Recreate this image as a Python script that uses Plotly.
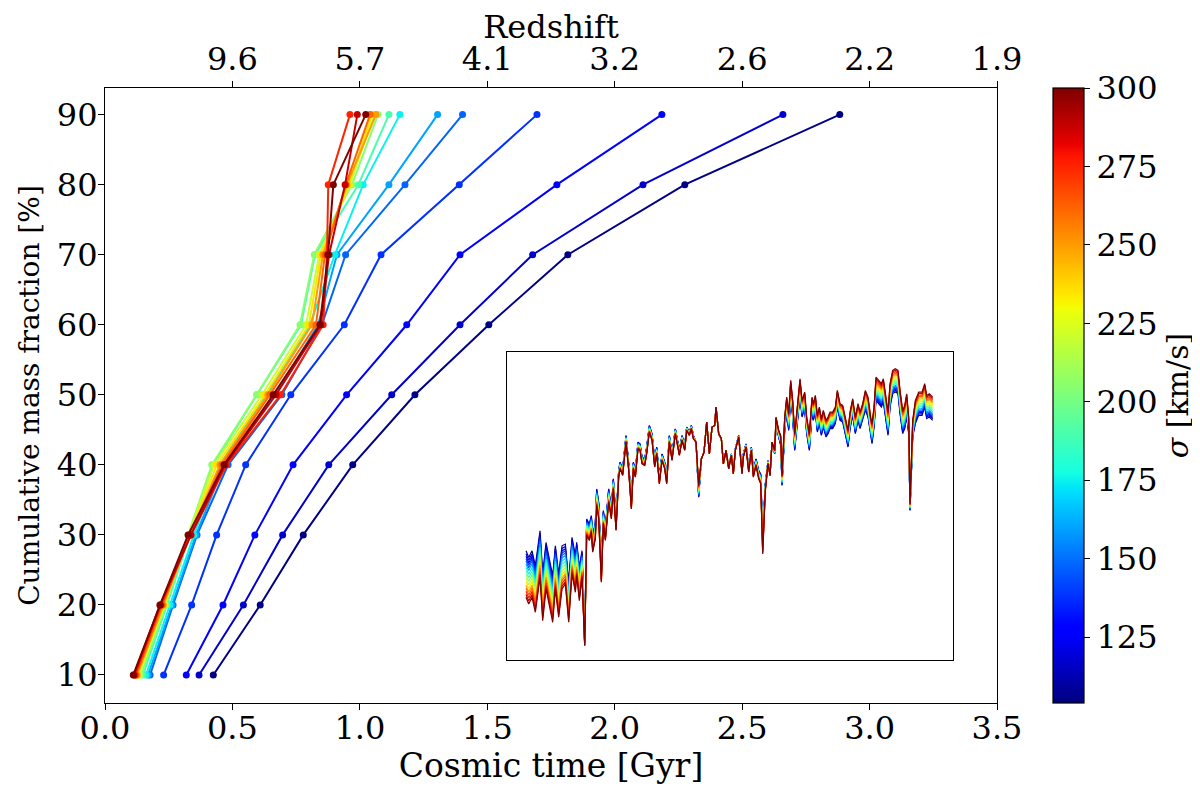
import numpy as np
import plotly.graph_objects as go

# velocity dispersion of each model [km/s]
sigma = [105, 117, 128, 138, 148, 160, 175, 190, 205, 220, 235, 250, 262, 275, 288, 300]
mass_fraction = [10, 20, 30, 40, 50, 60, 70, 80, 90]

# cosmic time [Gyr] at which each cumulative mass fraction is reached
t_105 = [0.425, 0.609, 0.778, 0.972, 1.216, 1.506, 1.816, 2.275, 2.883]
t_117 = [0.369, 0.543, 0.697, 0.878, 1.125, 1.393, 1.678, 2.111, 2.660]
t_128 = [0.319, 0.463, 0.588, 0.738, 0.948, 1.184, 1.393, 1.773, 2.185]
t_138 = [0.230, 0.340, 0.438, 0.552, 0.729, 0.939, 1.083, 1.390, 1.695]
t_148 = [0.177, 0.267, 0.361, 0.483, 0.694, 0.851, 0.944, 1.177, 1.403]
t_160 = [0.169, 0.263, 0.357, 0.467, 0.667, 0.836, 0.910, 1.114, 1.305]
t_175 = [0.161, 0.255, 0.349, 0.451, 0.632, 0.804, 0.902, 1.013, 1.157]
t_190 = [0.149, 0.243, 0.333, 0.424, 0.596, 0.769, 0.824, 0.994, 1.114]
t_205 = [0.141, 0.239, 0.326, 0.419, 0.595, 0.765, 0.821, 0.969, 1.071]
t_220 = [0.133, 0.235, 0.326, 0.428, 0.616, 0.789, 0.840, 0.961, 1.055]
t_235 = [0.129, 0.231, 0.330, 0.439, 0.628, 0.800, 0.847, 0.957, 1.047]
t_250 = [0.126, 0.228, 0.333, 0.451, 0.639, 0.812, 0.855, 0.949, 1.063]
t_262 = [0.122, 0.224, 0.333, 0.459, 0.647, 0.828, 0.863, 0.945, 1.040]
t_275 = [0.118, 0.220, 0.337, 0.477, 0.689, 0.856, 0.871, 0.876, 0.961]
t_288 = [0.114, 0.216, 0.337, 0.471, 0.671, 0.847, 0.879, 0.942, 0.990]
t_300 = [0.111, 0.216, 0.326, 0.467, 0.660, 0.843, 0.875, 0.896, 1.023]
cosmic_time = [t_105, t_117, t_128, t_138, t_148, t_160, t_175, t_190,
               t_205, t_220, t_235, t_250, t_262, t_275, t_288, t_300]

# top axis
z_ticks = [0.5, 1.0, 1.5, 2.0, 2.5, 3.0, 3.5]
z_labels = ['9.6', '5.7', '4.1', '3.2', '2.6', '2.2', '1.9']

# inset spectrum: wavelength [A], flux of the sigma=300 model, and
# flux difference (lowest sigma - highest sigma)
wave = [4780, 4784, 4789, 4794, 4801, 4805, 4810, 4815, 4820, 4824, 4829, 4834, 4839, 4844,
        4849, 4854, 4856, 4860, 4864, 4868, 4871, 4875, 4878, 4880, 4884, 4886, 4889, 4893,
        4896, 4899, 4904, 4908, 4911, 4915, 4919, 4921, 4925, 4930, 4934, 4938, 4941, 4944,
        4948, 4951, 4954, 4958, 4961, 4965, 4969, 4973, 4976, 4980, 4984, 4988, 4991, 4995,
        4999, 5004, 5008, 5010, 5014, 5018, 5021, 5025, 5028, 5031, 5035, 5039, 5043, 5047,
        5051, 5055, 5059, 5063, 5065, 5069, 5073, 5076, 5080, 5084, 5088, 5091, 5094, 5099,
        5104, 5106, 5110, 5114, 5118, 5121, 5125, 5129, 5132, 5135, 5139, 5143, 5146, 5149,
        5153, 5155, 5159, 5162, 5164, 5168, 5171, 5174, 5177, 5180, 5183, 5187, 5191, 5194,
        5198, 5201, 5205, 5209, 5211, 5214, 5217, 5220, 5223, 5226, 5230, 5233, 5236, 5240,
        5244, 5247, 5251, 5255, 5259, 5263, 5266, 5270, 5274, 5278, 5281, 5285, 5289, 5293,
        5297, 5299, 5302, 5305, 5309, 5313, 5316, 5319, 5323, 5326, 5330, 5334, 5338, 5341,
        5345, 5348, 5351, 5354, 5356, 5360, 5364, 5369, 5374, 5378, 5381, 5385, 5390]
flux_300 = [0.560, 0.540, 0.560, 0.515, 0.620, 0.490, 0.585, 0.530, 0.485, 0.585, 0.500, 0.585,
            0.600, 0.485, 0.630, 0.575, 0.625, 0.550, 0.620, 0.415, 0.745, 0.730, 0.755, 0.695,
            0.735, 0.835, 0.795, 0.605, 0.780, 0.730, 0.845, 0.795, 0.885, 0.760, 0.920, 0.945,
            0.925, 1.025, 0.940, 0.825, 0.945, 0.920, 1.005, 1.000, 0.960, 0.955, 0.990, 1.055,
            1.030, 0.950, 0.990, 0.900, 0.970, 0.945, 0.900, 1.025, 0.970, 1.050, 1.000, 0.985,
            1.030, 1.000, 1.060, 1.045, 1.065, 1.035, 1.025, 0.895, 0.975, 0.995, 1.085, 0.990,
            1.070, 1.075, 1.130, 1.050, 1.035, 0.960, 1.000, 0.945, 0.985, 0.930, 1.000, 1.040,
            0.930, 0.980, 1.010, 0.935, 1.000, 0.920, 0.955, 0.915, 0.900, 0.690, 0.880, 0.960,
            0.925, 1.025, 1.000, 1.100, 1.060, 1.045, 0.925, 1.100, 1.160, 1.110, 1.210, 1.150,
            1.050, 1.130, 1.215, 1.150, 1.175, 1.100, 1.050, 1.160, 1.140, 1.165, 1.105, 1.130,
            1.095, 1.120, 1.090, 1.100, 1.115, 1.115, 1.130, 1.180, 1.140, 1.135, 1.100, 1.060,
            1.115, 1.155, 1.100, 1.140, 1.115, 1.140, 1.180, 1.160, 1.100, 1.080, 1.130, 1.220,
            1.210, 1.200, 1.215, 1.175, 1.115, 1.200, 1.240, 1.245, 1.240, 1.180, 1.120, 1.135,
            1.170, 1.100, 0.840, 1.090, 1.150, 1.175, 1.175, 1.200, 1.165, 1.170, 1.160]
flux_spread = [0.14, 0.14, 0.14, 0.14, 0.14, 0.14, 0.14, 0.14, 0.14, 0.13, 0.13, 0.13, 0.12, 0.12,
               0.11, 0.11, 0.10, 0.10, 0.08, 0.01, 0.05, 0.05, 0.05, 0.05, 0.05, 0.05, 0.05, 0.04,
               0.04, 0.04, 0.04, 0.03, 0.03, 0.03, 0.02, 0.02, 0.02, 0.02, 0.02, 0.02, 0.02, 0.02,
               0.02, 0.02, 0.02, 0.02, 0.02, 0.02, 0.02, 0.02, 0.02, 0.02, 0.02, 0.02, 0.02, 0.02,
               0.02, 0.015, 0.015, 0.015, 0.015, 0.015, 0.01, 0.01, 0.01, 0.01, 0.0, -0.035, 0.0, 0.0,
               0.0, 0.0, 0.0, 0.0, 0.0, 0.0, 0.0, 0.0, 0.0, 0.005, 0.005, 0.005, 0.005, 0.005,
               0.01, 0.01, 0.01, 0.01, 0.01, 0.02, 0.02, 0.025, 0.03, 0.06, 0.02, 0.01, 0.0, 0.0,
               -0.01, -0.02, -0.02, -0.03, -0.03, -0.04, -0.05, -0.05, -0.05, -0.05, -0.05, -0.05,
               -0.05, -0.05, -0.05, -0.05, -0.05, -0.05, -0.05, -0.05, -0.05, -0.05, -0.05, -0.05,
               -0.05, -0.05, -0.05, -0.05, -0.05, -0.05, -0.05, -0.05, -0.05, -0.05, -0.05, -0.05,
               -0.05, -0.05, -0.05, -0.05, -0.06, -0.06, -0.06, -0.06, -0.06, -0.07, -0.07, -0.07,
               -0.07, -0.07, -0.07, -0.07, -0.07, -0.07, -0.07, -0.07, -0.07, -0.07, -0.07, -0.05,
               -0.02, -0.05, -0.07, -0.07, -0.07, -0.07, -0.07, -0.07, -0.07]

cmin, cmax = 104, 300


def jet(v):
    # matplotlib's jet colormap
    r = np.interp(v, [0, 0.35, 0.66, 0.89, 1], [0, 0, 1, 1, 0.5])
    g = np.interp(v, [0, 0.125, 0.375, 0.64, 0.91, 1], [0, 0, 1, 1, 0, 0])
    b = np.interp(v, [0, 0.11, 0.34, 0.65, 1], [0.5, 1, 1, 0, 0])
    return f"rgb({int(round(r * 255))},{int(round(g * 255))},{int(round(b * 255))})"


knots = [0, 0.11, 0.125, 0.34, 0.35, 0.375, 0.64, 0.65, 0.66, 0.89, 0.91, 1]
jet_scale = [[k, jet(k)] for k in knots]

font = 'DejaVu Serif'
tick_size = 32
fig = go.Figure()

wave_arr = np.array(wave)
base = np.array(flux_300)
spread = np.array(flux_spread)

for s, t in zip(sigma, cosmic_time):
    c = jet((s - cmin) / (cmax - cmin))
    fig.add_trace(go.Scatter(
        x=t, y=mass_fraction, mode='lines+markers',
        line=dict(color=c, width=2), marker=dict(color=c, size=7),
        xaxis='x', yaxis='y', showlegend=False, hoverinfo='skip'))

for s in sigma:
    c = jet((s - cmin) / (cmax - cmin))
    w = (cmax - s) / (cmax - cmin)
    fig.add_trace(go.Scatter(
        x=wave_arr, y=base + spread * w, mode='lines',
        line=dict(color=c, width=1.2),
        xaxis='x3', yaxis='y3', showlegend=False, hoverinfo='skip'))

# dummy traces: top axis and colour bar
fig.add_trace(go.Scatter(x=[None], y=[None], xaxis='x2', yaxis='y', showlegend=False))
fig.add_trace(go.Scatter(
    x=[None], y=[None], mode='markers', showlegend=False,
    marker=dict(color=[cmin, cmax], cmin=cmin, cmax=cmax, colorscale=jet_scale,
                showscale=True,
                colorbar=dict(x=1.0628, xanchor='left', y=0.5, yanchor='middle',
                              len=1, lenmode='fraction', thickness=31, thicknessmode='pixels',
                              xpad=0, ypad=0, outlinewidth=1.2, outlinecolor='black',
                              tickvals=[125, 150, 175, 200, 225, 250, 275, 300],
                              ticks='outside', ticklen=6, tickwidth=1.2, tickcolor='black',
                              tickfont=dict(family=font, size=tick_size, color='black'),
                              title=dict(text='<i>σ</i> [km/s]', side='right',
                                         font=dict(family=font, size=30, color='black'))))))

axis_common = dict(showgrid=False, zeroline=False, showline=True, linecolor='black',
                   linewidth=1.2, ticks='outside', ticklen=6, tickwidth=1.2, tickcolor='black',
                   automargin=False,
                   tickfont=dict(family=font, size=tick_size, color='black'))

# the page adds an 8 px body margin, so the figure is drawn 8 px smaller
fig.update_layout(
    width=1192, height=778,
    margin=dict(l=97, r=203, t=80, b=83, autoexpand=False),
    plot_bgcolor='white', paper_bgcolor='white',
    font=dict(family=font, size=tick_size, color='black'),
    showlegend=False,
    xaxis=dict(range=[0, 3.5], tickvals=[0, 0.5, 1.0, 1.5, 2.0, 2.5, 3.0, 3.5],
               tickformat='.1f', mirror=True, ticklabelstandoff=-10,
               title=dict(text='Cosmic time [Gyr]', standoff=6,
                          font=dict(family=font, size=33)), **axis_common),
    xaxis2=dict(range=[0, 3.5], overlaying='x', side='top', anchor='y',
                tickvals=z_ticks, ticktext=z_labels, ticklabelstandoff=-2,
                title=dict(text='Redshift', standoff=6,
                           font=dict(family=font, size=32)), **axis_common),
    yaxis=dict(range=[6.0, 93.8], tickvals=mass_fraction, mirror=True, ticklabelstandoff=-6,
               title=dict(text='Cumulative mass fraction [%]', standoff=8,
                          font=dict(family=font, size=28)), **axis_common),
    xaxis3=dict(domain=[0.4507, 0.9507], anchor='y3', range=[4751.5, 5420.5],
                showticklabels=False, ticks='', showgrid=False, zeroline=False,
                showline=True, mirror=True, linecolor='black', linewidth=1.2),
    yaxis3=dict(domain=[0.0699, 0.5707], anchor='x3', range=[0.372, 1.295],
                showticklabels=False, ticks='', showgrid=False, zeroline=False,
                showline=True, mirror=True, linecolor='black', linewidth=1.2),
)

fig.write_html("out.html")
